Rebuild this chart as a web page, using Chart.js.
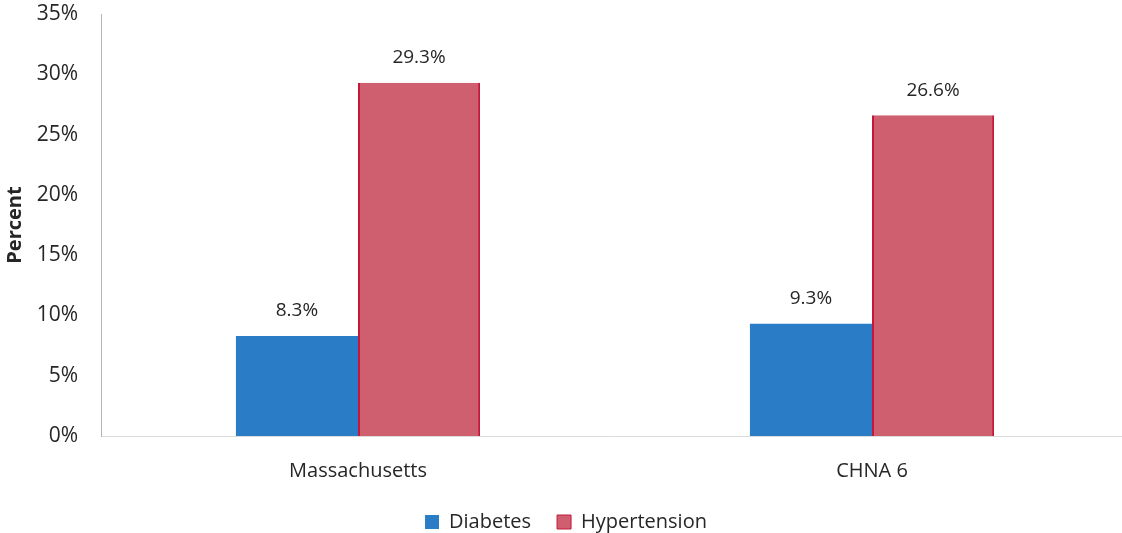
<!DOCTYPE html>
<html>
<head>
<meta charset="utf-8">
<script src="https://cdn.jsdelivr.net/npm/chart.js@4.4.1/dist/chart.umd.min.js"></script>
<style>
  html, body { margin: 0; padding: 0; background: #fff; overflow: hidden; }
  #wrap { width: 1129px; height: 533px; }
</style>
</head>
<body>
<div id="wrap"><canvas id="myChart"></canvas></div>
<script>
const categories = ['Massachusetts', 'CHNA 6'];
const diabetes = [8.3, 9.3];
const hypertension = [29.3, 26.6];
const yTicks = [0, 5, 10, 15, 20, 25, 30, 35];

const textColor = '#262626';
const font = 'Open Sans';

// values above bars
const barLabels = {
  id: 'barLabels',
  afterDatasetsDraw(chart) {
    const c = chart.ctx;
    c.save();
    c.font = '19px "' + font + '"';
    c.fillStyle = textColor;
    c.textAlign = 'center';
    c.textBaseline = 'middle';
    chart.data.datasets.forEach((ds, i) => {
      chart.getDatasetMeta(i).data.forEach((bar, j) => {
        c.fillText(ds.data[j].toFixed(1) + '%', bar.x, bar.y - 25);
      });
    });
    c.restore();
  }
};

const ctx = document.getElementById('myChart');

new Chart(ctx, {
  type: 'bar',
  data: {
    labels: categories,
    datasets: [{
      label: 'Diabetes',
      data: diabetes,
      backgroundColor: '#2b7cc7',
      borderColor: '#2b7cc7',
      borderWidth: 0
    }, {
      label: 'Hypertension',
      data: hypertension,
      backgroundColor: '#cf5f6e',
      borderColor: '#c4183a',
      borderWidth: { left: 2, right: 2, top: 0, bottom: 0 },
      borderSkipped: false
    }]
  },
  options: {
    responsive: true,
    maintainAspectRatio: false,
    animation: false,
    categoryPercentage: 0.475,
    barPercentage: 1,
    layout: { padding: { top: 14, right: 0, left: 3, bottom: -9 } },
    plugins: {
      legend: {
        position: 'bottom',
        labels: {
          color: textColor,
          font: { family: font, size: 20 },
          boxWidth: 14,
          boxHeight: 14,
          padding: 26
        }
      },
      tooltip: { enabled: false }
    },
    scales: {
      x: {
        grid: { display: false },
        border: { color: '#dcdcdc' },
        ticks: { color: textColor, font: { family: font, size: 20 }, padding: 15 },
        afterFit(s) { s.height = 50; s.paddingLeft = 0; s.paddingRight = 0; }
      },
      y: {
        min: 0,
        max: 35,
        afterBuildTicks(s) { s.ticks = yTicks.map(v => ({ value: v })); },
        grid: { display: false },
        border: { color: '#b5b5b5' },
        ticks: {
          color: textColor,
          font: { family: font, size: 21 },
          padding: 15,
          callback: v => v + '%'
        },
        title: {
          display: true,
          text: 'Percent',
          color: textColor,
          font: { family: font, size: 20, weight: 'bold' },
          padding: 0
        },
        afterFit(s) { s.width = 98; s.paddingTop = 0; s.paddingBottom = 0; }
      }
    }
  },
  plugins: [barLabels]
});
</script>
</body>
</html>
